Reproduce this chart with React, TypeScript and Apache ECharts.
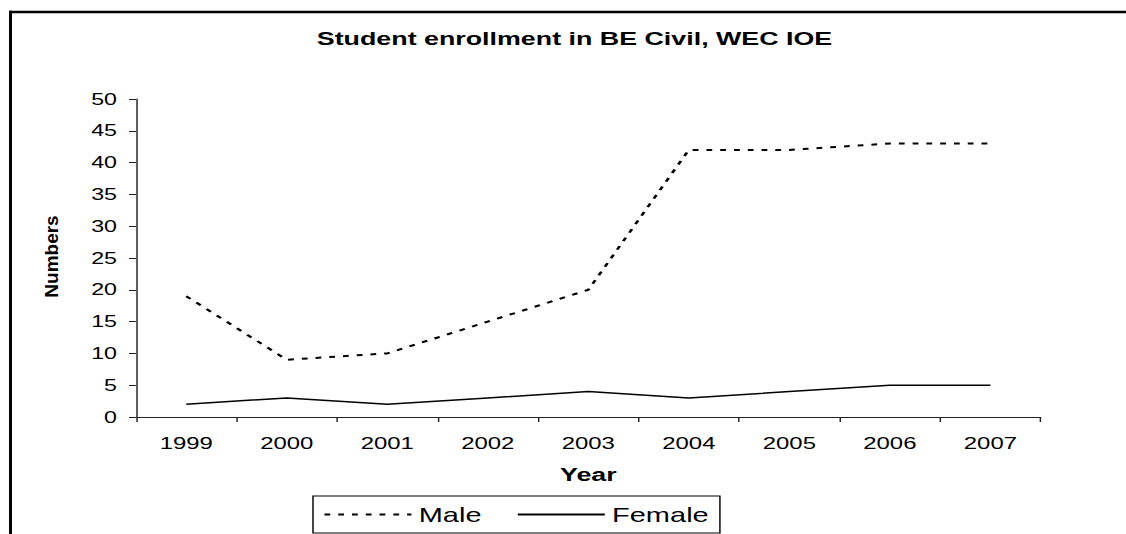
import React, { useEffect, useRef } from "react";
import * as echarts from "echarts";

const years = ["1999", "2000", "2001", "2002", "2003", "2004", "2005", "2006", "2007"];
const maleValues = [19, 9, 10, 15, 20, 42, 42, 43, 43];
const femaleValues = [2, 3, 2, 3, 4, 3, 4, 5, 5];
const seriesNames = ["Male", "Female"];
const titleText = "Student enrollment in BE Civil, WEC IOE";
const xAxisTitle = "Year";
const yAxisTitle = "Numbers";

// the reference picture is stretched horizontally; render in a narrower box and scale it
const S = 1.45;
const W = 1126 / S;
const H = 534;
const FONT = '"Liberation Sans", Arial, sans-serif';

export default function App() {
  const ref = useRef<HTMLDivElement>(null);
  useEffect(() => {
    if (!ref.current) return;
    const chart = echarts.init(ref.current, undefined, { renderer: "svg" });
    chart.setOption({
      animation: false,
      backgroundColor: "#fff",
      title: {
        text: titleText,
        left: 574.5 / S,
        top: 29,
        textAlign: "center",
        padding: 0,
        textStyle: { fontFamily: FONT, fontSize: 18.5, fontWeight: "bold", color: "#000" },
      },
      grid: { left: 136 / S, right: W - 1040 / S, top: 99, bottom: H - 417, containLabel: false },
      xAxis: {
        type: "category",
        data: years,
        boundaryGap: true,
        axisLine: { show: true, lineStyle: { color: "#222", width: 1 } },
        axisTick: { show: true, length: 5, alignWithLabel: false, lineStyle: { color: "#222" } },
        axisLabel: { interval: 0, fontFamily: FONT, fontSize: 16.5, color: "#000", margin: 17.5 },
        splitLine: { show: false },
        name: xAxisTitle,
        nameLocation: "middle",
        nameGap: 48.5,
        nameTextStyle: { fontFamily: FONT, fontSize: 18.5, fontWeight: "bold", color: "#000" },
      },
      yAxis: {
        type: "value",
        min: 0,
        max: 50,
        interval: 5,
        axisLine: { show: true, lineStyle: { color: "#222", width: 1 } },
        axisTick: { show: true, length: 7 / S, lineStyle: { color: "#222" } },
        axisLabel: { fontFamily: FONT, fontSize: 16, color: "#000", margin: 19 / S },
        splitLine: { show: false },
      },
      legend: {
        data: seriesNames,
        left: 313 / S,
        top: 496,
        orient: "horizontal",
        itemWidth: 60,
        itemHeight: 14,
        itemGap: 24,
        padding: [8.5, 7.7, 8.5, 6.9],
        borderColor: "#000",
        borderWidth: 1,
        backgroundColor: "#fff",
        itemStyle: { opacity: 0, borderWidth: 0 },
        textStyle: { fontFamily: FONT, fontSize: 20, lineHeight: 20, color: "#000" },
      },
      series: [
        {
          name: seriesNames[0],
          type: "line",
          data: maleValues,
          symbol: "none",
          lineStyle: { color: "#000", width: 2, type: [4, 5.5] },
          itemStyle: { color: "#000" },
        },
        {
          name: seriesNames[1],
          type: "line",
          data: femaleValues,
          symbol: "none",
          lineStyle: { color: "#000", width: 1.5, type: "solid" },
          itemStyle: { color: "#000" },
        },
      ],
      graphic: [
        {
          type: "line",
          shape: { x1: 9 / S, y1: 12, x2: W + 10, y2: 12 },
          style: { stroke: "#000", lineWidth: 2.5 },
        },
        {
          type: "line",
          shape: { x1: 10.5 / S, y1: 10.8, x2: 10.5 / S, y2: H + 10 },
          style: { stroke: "#000", lineWidth: 3 / S },
        },
        {
          type: "text",
          x: 51.5 / S,
          y: 256.5,
          rotation: Math.PI / 2,
          scaleX: 1,
          scaleY: 0.65,
          style: {
            text: yAxisTitle,
            fontFamily: FONT,
            fontSize: 19,
            fontWeight: "bold",
            fill: "#000",
            align: "center",
            verticalAlign: "middle",
            textAlign: "center",
            textVerticalAlign: "middle",
          },
        },
      ],
    });
    return () => chart.dispose();
  }, []);
  return (
    <div
      ref={ref}
      style={{
        position: "absolute",
        left: 0,
        top: 0,
        width: W + "px",
        height: H + "px",
        transform: `scaleX(${S})`,
        transformOrigin: "0 0",
        background: "#fff",
      }}
    />
  );
}
